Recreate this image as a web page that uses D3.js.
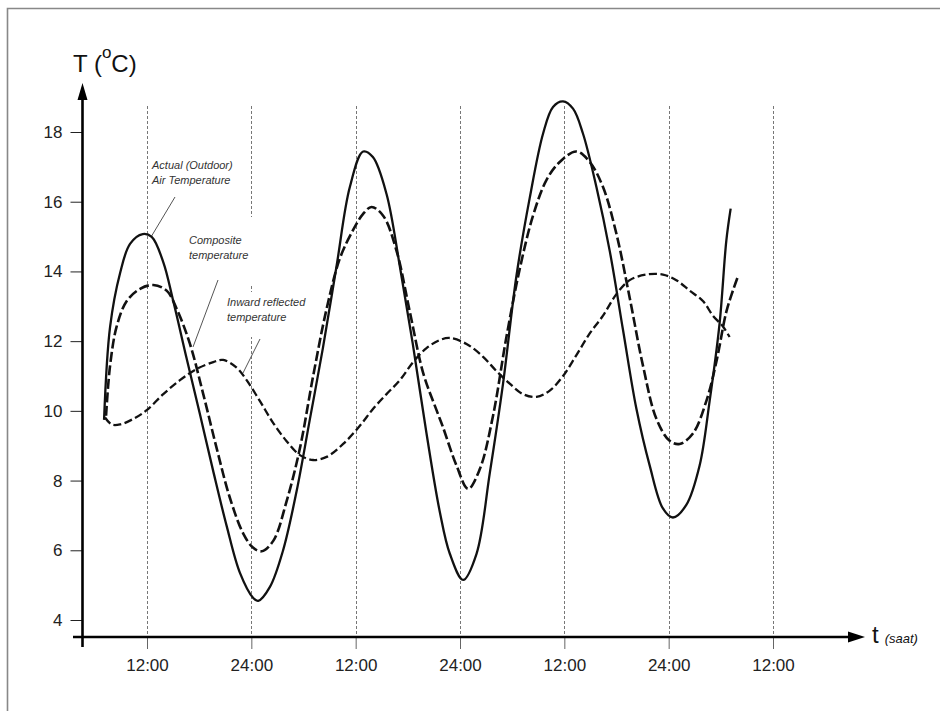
<!DOCTYPE html>
<html><head><meta charset="utf-8">
<script src="https://cdn.jsdelivr.net/npm/d3@7"></script>
<style>
body{margin:0;background:#fff}
svg{display:block;background:#fff}
text{font-family:"Liberation Sans",Arial,sans-serif}
</style>
</head><body>
<svg id="c" width="940" height="711"></svg>
<script>
// ---- data ----
const xTickValues = [12, 24, 36, 48, 60, 72, 84];
const xTickLabels = ["12:00", "24:00", "12:00", "24:00", "12:00", "24:00", "12:00"];
const yTickValues = [4, 6, 8, 10, 12, 14, 16, 18];

// [hour, temperature °C]
const actual = [[7.06,9.74],[7.75,12.4],[8.9,13.95],[10.05,14.79],[11.51,15.07],[12.54,14.99],[13.87,14.27],[15.02,13.15],[16.56,11.5],[18.09,9.9],[19.59,8.3],[21.16,6.7],[22.69,5.35],[24.22,4.63],[24.79,4.55],[26.14,4.95],[27.63,5.98],[29.21,7.7],[30.74,9.77],[32.23,11.8],[33.8,14.15],[35.33,16.42],[36.86,17.44],[37.98,17.28],[39.55,16.22],[41.08,14.15],[42.57,11.92],[44.15,9.35],[45.68,7.1],[46.83,5.9],[48.36,5.15],[49.9,5.9],[51.43,8.22],[52.95,10.78],[54.49,13.87],[56.02,16.11],[57.55,17.95],[58.7,18.72],[59.85,18.88],[61.0,18.67],[62.15,17.95],[63.69,16.42],[65.22,14.59],[66.75,12.32],[68.29,10.06],[69.82,8.43],[71.34,7.2],[72.49,6.94],[74.03,7.3],[75.56,8.43],[76.71,10.28],[77.86,12.52],[78.63,14.88],[79.13,15.8]];

const composite = [[7.29,9.86],[7.75,11.29],[8.52,12.43],[9.67,13.15],[11.2,13.5],[12.72,13.61],[14.26,13.45],[15.41,12.93],[16.94,11.92],[18.47,10.48],[20.01,8.93],[21.54,7.5],[23.07,6.48],[24.22,6.07],[25.18,5.97],[26.52,6.27],[28.06,7.41],[29.59,8.93],[31.11,11.0],[32.66,12.93],[34.18,14.37],[35.71,15.19],[36.86,15.65],[37.83,15.85],[39.16,15.6],[40.7,14.59],[42.23,12.84],[43.76,11.09],[45.3,10.02],[45.99,9.57],[47.6,8.43],[48.93,7.76],[50.28,8.33],[51.8,9.86],[53.34,12.12],[54.87,14.07],[56.4,15.6],[57.94,16.62],[59.47,17.14],[61.39,17.44],[62.92,17.14],[64.45,16.42],[65.99,15.08],[67.52,13.24],[69.05,11.29],[70.59,9.77],[72.11,9.14],[73.26,9.05],[74.79,9.35],[76.33,10.28],[77.48,11.4],[78.63,12.84],[79.39,13.45],[79.97,13.86]];

const inward = [[7.17,9.81],[7.94,9.61],[8.9,9.61],[10.43,9.77],[11.97,10.02],[13.87,10.48],[15.79,10.88],[17.71,11.2],[19.62,11.4],[20.77,11.46],[22.31,11.24],[23.46,10.88],[24.99,10.28],[26.52,9.65],[28.06,9.13],[29.59,8.73],[31.11,8.59],[32.66,8.68],[34.56,9.05],[36.48,9.57],[38.01,10.06],[39.55,10.48],[41.08,10.88],[42.61,11.4],[44.15,11.8],[45.68,12.03],[46.83,12.09],[48.75,11.92],[50.66,11.55],[52.2,11.14],[53.72,10.78],[55.25,10.48],[56.79,10.4],[58.32,10.58],[59.85,11.0],[61.39,11.6],[62.92,12.22],[64.45,12.73],[65.99,13.35],[67.52,13.75],[69.44,13.91],[71.34,13.91],[72.88,13.75],[74.41,13.45],[75.94,13.15],[77.09,12.73],[78.24,12.42],[79.01,12.12]];

const labelActual = ["Actual (Outdoor)", "Air Temperature"];
const labelComposite = ["Composite", "temperature"];
const labelInward = ["Inward reflected", "temperature"];

// ---- drawing ----
const svg = d3.select("#c");
const x = d3.scaleLinear().domain([12, 84]).range([147, 773]);
const y = d3.scaleLinear().domain([4, 18]).range([620, 132]);
const axisY = 637, axisX = 82.5;

// frame (top + left)
svg.append("path").attr("d", "M7.5,711V8.5H940").attr("fill", "none")
  .attr("stroke", "#888").attr("stroke-width", 1.6);

// vertical dashed grid lines
svg.append("g").selectAll("line").data(xTickValues).join("line")
  .attr("x1", d => Math.round(x(d)) + 0.5).attr("x2", d => Math.round(x(d)) + 0.5)
  .attr("y1", 106).attr("y2", axisY)
  .attr("stroke", "#777").attr("stroke-width", 1).attr("stroke-dasharray", "3,2");

// annotation white boxes (they interrupt the grid line)
svg.append("rect").attr("x", 186).attr("y", 217).attr("width", 72).attr("height", 68).attr("fill", "#fff");
svg.append("rect").attr("x", 224).attr("y", 292).attr("width", 86).attr("height", 45).attr("fill", "#fff");

// annotation texts
function label(lines, lx, ly) {
  const t = svg.append("text").attr("x", lx).attr("y", ly)
    .attr("font-size", 11).attr("font-style", "italic").attr("fill", "#333");
  lines.forEach((s, i) => t.append("tspan").attr("x", lx).attr("dy", i ? 15 : 0).text(s));
}
label(labelActual, 152, 169);
label(labelComposite, 189, 244);
label(labelInward, 227, 306);

// leader lines
[[175,197,151,237],[218,280,193,347],[260,339,243,373]].forEach(l =>
  svg.append("line").attr("x1", l[0]).attr("y1", l[1]).attr("x2", l[2]).attr("y2", l[3])
    .attr("stroke", "#555").attr("stroke-width", 1));

// curves
const line = d3.line().x(d => x(d[0])).y(d => y(d[1])).curve(d3.curveCatmullRom.alpha(0.5));
svg.append("path").datum(inward).attr("d", line).attr("fill", "none")
  .attr("stroke", "#111").attr("stroke-width", 2.3).attr("stroke-dasharray", "8,3.5");
svg.append("path").datum(composite).attr("d", line).attr("fill", "none")
  .attr("stroke", "#111").attr("stroke-width", 2.6).attr("stroke-dasharray", "10,3.5");
svg.append("path").datum(actual).attr("d", line).attr("fill", "none")
  .attr("stroke", "#111").attr("stroke-width", 2.3);

// y axis
const gy = svg.append("g").attr("transform", `translate(${axisX},0)`)
  .call(d3.axisLeft(y).tickValues(yTickValues).tickSize(12).tickPadding(8).tickFormat(d3.format("d")));
gy.select(".domain").remove();
gy.selectAll(".tick line").attr("stroke", "#222");
gy.selectAll(".tick text").attr("font-size", 17).attr("fill", "#222")
  .style("font-family", '"Liberation Sans",Arial,sans-serif');

// x axis
const gx = svg.append("g").attr("transform", `translate(0,${axisY})`)
  .call(d3.axisBottom(x).tickValues(xTickValues).tickSize(12).tickPadding(10)
    .tickFormat((d, i) => xTickLabels[i]));
gx.select(".domain").remove();
gx.selectAll(".tick line").attr("stroke", "#666");
gx.selectAll(".tick text").attr("font-size", 17).attr("fill", "#222")
  .style("font-family", '"Liberation Sans",Arial,sans-serif');

// axis lines with arrows
svg.append("line").attr("x1", 73).attr("y1", axisY).attr("x2", 850).attr("y2", axisY)
  .attr("stroke", "#000").attr("stroke-width", 2.6);
svg.append("path").attr("d", `M848,${axisY-5.5}L865,${axisY}L848,${axisY+5.5}Z`).attr("fill", "#000");
svg.append("line").attr("x1", axisX).attr("y1", 647).attr("x2", axisX).attr("y2", 96)
  .attr("stroke", "#000").attr("stroke-width", 2.6);
svg.append("path").attr("d", `M${axisX-5},100L${axisX},83L${axisX+5},100Z`).attr("fill", "#000");

// axis titles
const ty = svg.append("text").attr("x", 73).attr("y", 72).attr("font-size", 24).attr("fill", "#111");
ty.append("tspan").text("T (");
ty.append("tspan").attr("font-size", 17).attr("dy", -14).text("o");
ty.append("tspan").attr("dy", 14).text("C)");

const tx = svg.append("text").attr("x", 872).attr("y", 643).attr("fill", "#111");
tx.append("tspan").attr("font-size", 24).text("t");
tx.append("tspan").attr("font-size", 13).attr("font-style", "italic").attr("dx", 6).text("(saat)");
</script>
</body></html>
